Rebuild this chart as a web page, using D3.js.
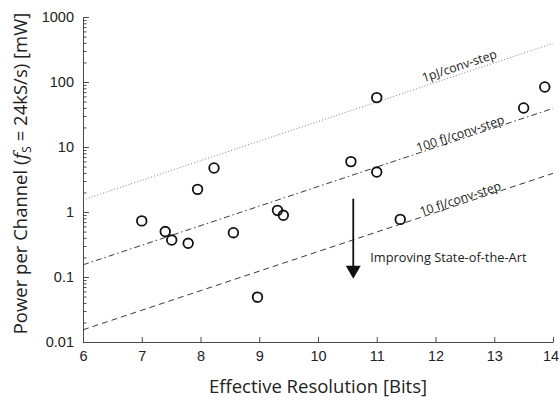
<!DOCTYPE html>
<html>
<head>
<meta charset="utf-8">
<script src="https://cdn.jsdelivr.net/npm/d3@7"></script>
<style>
  body { margin: 0; background: #fff; }
  svg { display: block; }
</style>
</head>
<body>
<svg id="chart" width="560" height="401"></svg>
<script>
// data
const enob  = [7.0, 7.4, 7.51, 7.79, 7.95, 8.23, 8.56, 8.97, 9.31, 9.41, 10.56, 11.0, 11.0, 11.4, 13.5, 13.86];
const power = [0.73, 0.50, 0.37, 0.33, 2.23, 4.75, 0.48, 0.049, 1.06, 0.89, 5.96, 4.12, 57.5, 0.77, 39.8, 83.8];

// figure-of-merit lines: power at 6 bits and at 14 bits
const fomLabels = ["1pJ/conv-step", "100 fJ/conv-step", "10 fJ/conv-step"];
const fomStart  = [1.54, 0.154, 0.0154];
const fomEnd    = [393, 39.3, 3.93];
const fomDash   = ["0.8,2.2", "6,3,1.5,3", "6,4"];

const xTicks = [6, 7, 8, 9, 10, 11, 12, 13, 14];
const yTicks = [0.01, 0.1, 1, 10, 100, 1000];
const yTickLabels = ["0.01", "0.1", "1", "10", "100", "1000"];

// arrow "Improving State-of-the-Art"
const arrowX = 10.6, arrowTop = 1.6, arrowTip = 0.094;

const svg = d3.select("#chart");
const x = d3.scaleLinear().domain([6, 14]).range([83, 553]);
const y = d3.scaleLog().domain([0.01, 1000]).range([342, 17]);

const axisColor = "#4a4a4a";
const tickFont = "'Liberation Sans', Arial, sans-serif";
const textFont = "'Open Sans', 'Noto Sans', sans-serif";

// fom lines
const g = svg.append("g");
fomLabels.forEach((lab, i) => {
  g.append("line")
    .attr("x1", x(6)).attr("y1", y(fomStart[i]))
    .attr("x2", x(14)).attr("y2", y(fomEnd[i]))
    .attr("stroke", i == 0 ? "#555" : "#222")
    .attr("stroke-width", 0.9)
    .attr("stroke-dasharray", fomDash[i]);

  const bx = 12.45;
  const t = (bx - 6) / 8;
  const by = Math.pow(10, Math.log10(fomStart[i]) + t * (Math.log10(fomEnd[i]) - Math.log10(fomStart[i])));
  const ang = Math.atan2(y(fomEnd[i]) - y(fomStart[i]), x(14) - x(6)) * 180 / Math.PI;
  g.append("text")
    .attr("transform", `translate(${x(bx)},${y(by)}) rotate(${ang})`)
    .attr("y", i == 0 ? -4 : -1)
    .attr("text-anchor", "middle")
    .attr("font-family", textFont)
    .attr("font-size", 12.3)
    .attr("fill", "#222")
    .text(lab);
});

// points
svg.append("g").selectAll("circle")
  .data(enob)
  .join("circle")
  .attr("cx", d => x(d))
  .attr("cy", (d, i) => y(power[i]))
  .attr("r", 4.8)
  .attr("fill", "none")
  .attr("stroke", "#111")
  .attr("stroke-width", 1.8);

// arrow
svg.append("line")
  .attr("x1", x(arrowX)).attr("x2", x(arrowX))
  .attr("y1", y(arrowTop)).attr("y2", y(arrowTip) - 12)
  .attr("stroke", "#111").attr("stroke-width", 1.8);
svg.append("path")
  .attr("d", `M${x(arrowX) - 7.5},${y(arrowTip) - 13} L${x(arrowX) + 7.5},${y(arrowTip) - 13} L${x(arrowX)},${y(arrowTip)} Z`)
  .attr("fill", "#111");
svg.append("text")
  .attr("x", x(arrowX) + 17)
  .attr("y", y(arrowTip) - 17)
  .attr("font-family", textFont)
  .attr("font-size", 12.8)
  .attr("fill", "#222")
  .text("Improving State-of-the-Art");

// x axis, ticks inward
const xAxis = svg.append("g")
  .attr("transform", `translate(0,${y(0.01)})`)
  .call(d3.axisBottom(x).tickValues(xTicks).tickSizeInner(-5).tickSizeOuter(0).tickPadding(9));
xAxis.select(".domain").attr("stroke", axisColor);
xAxis.selectAll(".tick line").attr("stroke", axisColor);
xAxis.selectAll("text").attr("font-family", tickFont).attr("font-size", 14.5).attr("fill", "#222")
  .attr("dx", d => d == 14 ? -2.5 : 0);

// y axis, major and minor ticks inward
const minor = [];
for (let e = -2; e < 3; e++) for (let m = 2; m < 10; m++) minor.push(m * Math.pow(10, e));
const yMinor = svg.append("g")
  .attr("transform", `translate(${x(6)},0)`)
  .call(d3.axisLeft(y).tickValues(minor).tickSize(-3.5).tickFormat(""));
yMinor.select(".domain").remove();
yMinor.selectAll(".tick line").attr("stroke", axisColor);

const yAxis = svg.append("g")
  .attr("transform", `translate(${x(6)},0)`)
  .call(d3.axisLeft(y).tickValues(yTicks).tickSizeInner(-6).tickSizeOuter(0).tickPadding(9)
    .tickFormat((d, i) => yTickLabels[i]));
yAxis.select(".domain").attr("stroke", axisColor);
yAxis.selectAll(".tick line").attr("stroke", axisColor);
yAxis.selectAll("text").attr("font-family", tickFont).attr("font-size", 14.5).attr("fill", "#222");

// axis titles
svg.append("text")
  .attr("x", (x(6) + x(14)) / 2)
  .attr("y", 393)
  .attr("text-anchor", "middle")
  .attr("font-family", textFont)
  .attr("font-size", 18.5)
  .attr("fill", "#222")
  .text("Effective Resolution [Bits]");

const yt = svg.append("text")
  .attr("transform", `translate(27,${(y(0.01) + y(1000)) / 2 - 6}) rotate(-90)`)
  .attr("text-anchor", "middle")
  .attr("font-family", textFont)
  .attr("font-size", 18.5)
  .attr("fill", "#222");
yt.append("tspan").text("Power per Channel (");
yt.append("tspan").attr("font-style", "italic").attr("font-family", "'DejaVu Serif', serif").text("f");
yt.append("tspan").attr("font-size", 12).attr("dy", 4).text("S");
yt.append("tspan").attr("dy", -4).text(" = 24kS/s) [mW]");
</script>
</body>
</html>
